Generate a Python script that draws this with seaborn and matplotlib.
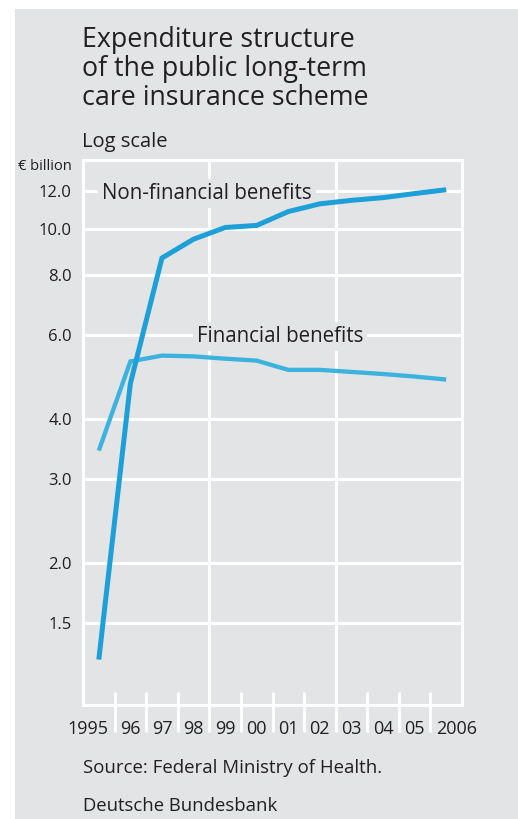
import matplotlib
matplotlib.use("Agg")
import matplotlib.pyplot as plt
from matplotlib.patches import Rectangle
from matplotlib.transforms import ScaledTranslation
import seaborn as sns
import pandas as pd
import numpy as np

# ---- data ----
years = ["1995", "96", "97", "98", "99", "00", "01", "02", "03", "04", "05", "2006"]
non_financial = [1.26, 4.75, 8.68, 9.50, 10.05, 10.15, 10.85, 11.26, 11.45, 11.60, 11.83, 12.05]
financial = [3.44, 5.28, 5.43, 5.41, 5.35, 5.30, 5.07, 5.07, 5.02, 4.97, 4.91, 4.84]
y_ticks = [1.5, 2.0, 3.0, 4.0, 6.0, 8.0, 10.0, 12.0]
y_tick_labels = ["1.5", "2.0", "3.0", "4.0", "6.0", "8.0", "10.0", "12.0"]

BG = "#e3e4e6"
C_NON = "#1d9fd8"
C_FIN = "#3cb3df"
TXT = "#231f20"

sns.set_theme(style="white")
plt.rcParams["font.family"] = ["Open Sans", "DejaVu Sans"]

W, H = 518, 819
fig = plt.figure(figsize=(W / 100, H / 100), dpi=100)
fig.patch.set_facecolor("white")
fig.patches.append(Rectangle((15 / W, 0), 1, 1 - 9 / H, transform=fig.transFigure,
                             facecolor=BG, edgecolor="none", zorder=-10))

ax = fig.add_axes([83 / W, 1 - 705 / H, (462 - 83) / W, (705 - 160) / H])
ax.set_facecolor(BG)

pos = np.arange(len(years)) + 0.5
df_fin = pd.DataFrame({"x": pos, "value": financial})
df_non = pd.DataFrame({"x": pos, "value": non_financial})

sns.lineplot(data=df_fin, x="x", y="value", ax=ax, color=C_FIN, lw=3.1,
             solid_capstyle="butt", solid_joinstyle="miter", zorder=4)
sns.lineplot(data=df_non, x="x", y="value", ax=ax, color=C_NON, lw=3.6,
             solid_capstyle="butt", solid_joinstyle="miter", zorder=5)

ax.set_yscale("log")
ax.set_ylim(1.013, 13.9)
ax.set_xlim(0, len(years))
ax.set_yticks(y_ticks)
ax.set_yticklabels(y_tick_labels)
ax.yaxis.set_minor_locator(matplotlib.ticker.NullLocator())
ax.set_xticks(pos)
ax.set_xticklabels(years)
ax.set_xlabel("")
ax.set_ylabel("")

# grid
for yv in y_ticks:
    ax.axhline(yv, color="white", lw=2.2, zorder=1)
for xv in [4, 8]:
    ax.axvline(xv, color="white", lw=2.2, zorder=1)
for s in ax.spines.values():
    s.set_color("white")
    s.set_linewidth(2.2)
    s.set_zorder(1)

# year boundary ticks
axh = 705 - 160
ax.vlines(np.arange(1, len(years)), -27 / axh, 13 / axh, transform=ax.get_xaxis_transform(),
          color="white", lw=2.0, clip_on=False, zorder=1)

ax.tick_params(axis="both", length=0, colors=TXT)
ax.tick_params(axis="y", pad=8, labelsize=12)
ax.tick_params(axis="x", pad=10.5, labelsize=13)

labels = ax.get_xticklabels()
labels[0].set_ha("right")
labels[0].set_transform(labels[0].get_transform() + ScaledTranslation(10 / 100, 0, fig.dpi_scale_trans))
labels[-1].set_ha("left")
labels[-1].set_transform(labels[-1].get_transform() + ScaledTranslation(-10 / 100, 0, fig.dpi_scale_trans))

# series labels
box = dict(boxstyle="square,pad=0.2", facecolor=BG, edgecolor="none")
ax.annotate("Non-financial benefits", xy=(0.6, 12.0), xytext=(0, -5.8), textcoords="offset points",
            fontsize=14.8, color=TXT, va="baseline", ha="left", bbox=box, zorder=2)
ax.annotate("Financial benefits", xy=(3.6, 6.0), xytext=(0, -5.2), textcoords="offset points",
            fontsize=14.8, color=TXT, va="baseline", ha="left", bbox=box, zorder=2)

# titles and notes
fig.text(82 / W, 1 - 47 / H, "Expenditure structure", fontsize=19.3, color=TXT,
         va="baseline", ha="left")
fig.text(82 / W, 1 - 76 / H, "of the public long-term", fontsize=19.3, color=TXT,
         va="baseline", ha="left")
fig.text(82 / W, 1 - 105 / H, "care insurance scheme", fontsize=19.3, color=TXT,
         va="baseline", ha="left")
fig.text(82 / W, 1 - 147 / H, "Log scale", fontsize=14.5, color=TXT, va="baseline", ha="left")
fig.text(72 / W, 1 - 170 / H, "€ billion", fontsize=10.5, color=TXT, va="baseline", ha="right")
fig.text(83 / W, 1 - 773 / H, "Source: Federal Ministry of Health.", fontsize=13.4, color=TXT,
         va="baseline", ha="left")
fig.text(83 / W, 1 - 811 / H, "Deutsche Bundesbank", fontsize=13.3, color=TXT,
         va="baseline", ha="left")

fig.savefig("out.png", dpi=100, facecolor=fig.get_facecolor())
